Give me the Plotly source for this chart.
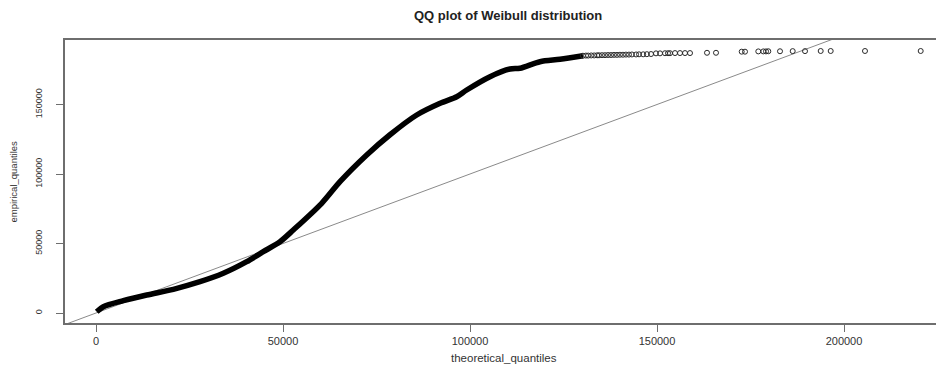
import plotly.graph_objects as go

# Dense body of the QQ curve (theoretical, empirical)
body_theoretical = [187, 1952, 7300, 13556, 20668, 27807, 34038, 40294, 44733, 49198,
                    52754, 60348, 65241, 72380, 78529, 85749, 92016, 96445, 99118,
                    105347, 110695, 113369, 118717, 124064, 130214]
body_empirical = [935, 4532, 8849, 12950, 17050, 22518, 28561, 36906, 44100, 51295,
                  59712, 78920, 94460, 113670, 128057, 142445, 150862, 155611, 160431,
                  170000, 175538, 176042, 180791, 182518, 185108]

# Upper tail: individual points (open circles)
tail_theoretical = [130200, 131000, 131600, 132400, 133200, 134000, 134500, 135300, 136100,
                    136900, 137700, 138500, 139300, 140100, 140900, 141700, 142500, 143300,
                    144400, 145200, 146300, 147300, 148400,
                    149733, 150802, 152139, 152941, 153476, 154813, 156150, 157487, 158824,
                    163369, 165776, 172646, 173529, 177085, 178422, 179145, 179760, 182888,
                    186284, 189573, 193770, 196444, 205612, 220505]
tail_empirical = [185100, 185200, 185200, 185300, 185300, 185400, 185400, 185500, 185500,
                  185600, 185600, 185700, 185700, 185800, 185800, 185900, 185900, 186000,
                  186000, 186100, 186100, 186200, 186300,
                  186800, 186800, 186900, 186900, 186900, 187000, 187000, 187000, 187000,
                  187200, 187200, 188000, 188000, 188200, 188200, 188200, 188300, 188300,
                  188400, 188400, 188500, 188500, 188500, 188500]

# Reference line y = intercept + slope * x
ref_intercept = 0
ref_slope = 1
ref_x = [-20000, 240000]

x_ticks = [0, 50000, 100000, 150000, 200000]
x_tick_labels = ["0", "50000", "100000", "150000", "200000"]
y_ticks = [0, 50000, 100000, 150000]
y_tick_labels = ["0", "50000", "100000", "150000"]

x_range = [-8289, 226203]
y_range = [-7194, 196403]

fig = go.Figure()

fig.add_trace(go.Scatter(
    x=ref_x, y=[ref_intercept + ref_slope * v for v in ref_x],
    mode="lines", line=dict(color="#8a8a8a", width=1), hoverinfo="skip"))

fig.add_trace(go.Scatter(
    x=body_theoretical, y=body_empirical, mode="lines",
    line=dict(color="#000000", width=5.5, shape="spline", smoothing=0.8)))

fig.add_trace(go.Scatter(
    x=tail_theoretical, y=tail_empirical, mode="markers",
    marker=dict(symbol="circle-open", size=5, color="#2a2a2a", line=dict(width=1, color="#2a2a2a"))))

# page body adds an 8px offset; size and margins compensate so the plot box
# lands at the reference pixel positions
fig.update_layout(
    width=936, height=359,
    margin=dict(l=57, r=2, t=32, b=44),
    paper_bgcolor="white", plot_bgcolor="white",
    showlegend=False,
    font=dict(family="Liberation Sans, Arial, sans-serif", color="#333333"),
    annotations=[
        dict(text="<b>QQ plot of Weibull distribution</b>", xref="paper", yref="paper",
             x=0.505, y=1, yshift=25, showarrow=False, xanchor="center", yanchor="middle",
             font=dict(size=13, color="#222222")),
        dict(text="theoretical_quantiles", xref="paper", yref="paper",
             x=0.5, y=0, yshift=-35, showarrow=False, xanchor="center", yanchor="middle",
             font=dict(size=11.5, color="#333333")),
        dict(text="empirical_quantiles", xref="paper", yref="paper",
             x=0, y=0.5, xshift=-52, showarrow=False, xanchor="center", yanchor="middle",
             textangle=-90, font=dict(size=9.5, color="#333333")),
    ],
)

fig.update_xaxes(
    range=x_range, tickvals=x_ticks, ticktext=x_tick_labels, automargin=False,
    showgrid=False, zeroline=False, showline=True, mirror=True,
    linecolor="#6e6e6e", linewidth=1.5,
    ticks="outside", ticklen=7, tickcolor="#6e6e6e", tickwidth=1,
    tickfont=dict(size=11, color="#333333"))

fig.update_yaxes(
    range=y_range, tickvals=y_ticks, ticktext=y_tick_labels, automargin=False,
    showgrid=False, zeroline=False, showline=True, mirror=True,
    linecolor="#6e6e6e", linewidth=1.5,
    ticks="outside", ticklen=7, tickcolor="#6e6e6e", tickwidth=1,
    tickangle=-90, ticklabelstandoff=11,
    tickfont=dict(size=9, color="#333333"))

fig.write_html("out.html")
